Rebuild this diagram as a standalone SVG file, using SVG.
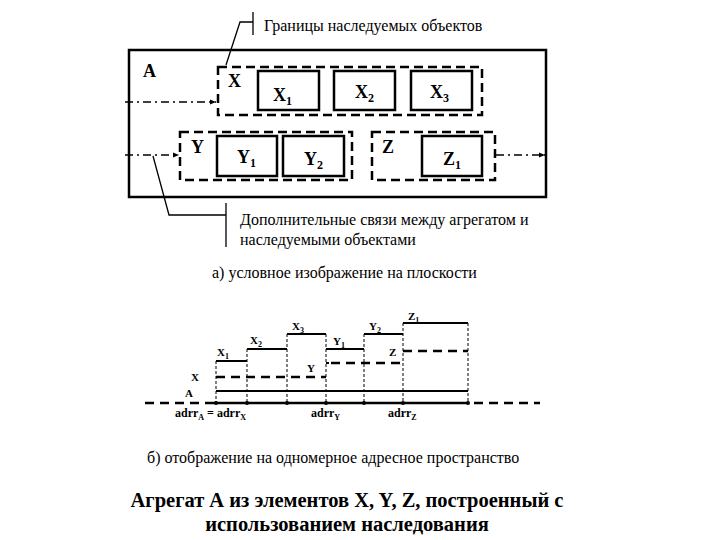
<svg xmlns="http://www.w3.org/2000/svg" width="720" height="540" viewBox="0 0 720 540" font-family="'Liberation Serif', 'Times New Roman', 'DejaVu Serif', serif">
<style>
.lbl{font-size:18px;font-weight:bold}
.sub{font-size:12px}
.note{font-size:16px}
.sm{font-size:11px;font-weight:bold}
.ad{font-size:12px;font-weight:bold}
.ssub{font-size:8px}
.box{fill:none;stroke:#000;stroke-width:2.5}
.dbox{fill:none;stroke:#000;stroke-width:2.5;stroke-dasharray:9 5}
.dd{fill:none;stroke:#000;stroke-width:1.5;stroke-dasharray:8 4 2 4}
.thin{fill:none;stroke:#000;stroke-width:1.3}
.ax{fill:none;stroke:#000;stroke-width:2.5}
.axd{fill:none;stroke:#000;stroke-width:2.5;stroke-dasharray:9 6}
.vd{fill:none;stroke:#000;stroke-width:1;stroke-dasharray:3 2}
.lv{fill:none;stroke:#000;stroke-width:2}
.lvd{fill:none;stroke:#000;stroke-width:2.5;stroke-dasharray:9 6}
.ttl{font-size:20.5px;font-weight:bold}
</style>
<defs>
<marker id="ar" viewBox="0 0 10 10" refX="10" refY="5" markerWidth="6" markerHeight="6" orient="auto" markerUnits="userSpaceOnUse">
<path d="M0,1 L10,5 L0,9 z" fill="#000"/>
</marker>
</defs>
<rect width="720" height="540" fill="#fff"/>

<g id="A">
<rect class="box" x="129" y="50" width="417" height="147"/>
<text class="lbl" x="143" y="77">A</text>
</g>
<g id="X">
<rect class="dbox" x="218" y="67" width="264" height="48"/>
<text class="lbl" x="228" y="87">X</text>
</g>
<g id="X1"><rect class="box" x="258" y="71" width="61" height="39"/><text class="lbl" x="273" y="101">X<tspan class="sub" dy="4">1</tspan></text></g>
<g id="X2"><rect class="box" x="334" y="71" width="61" height="39"/><text class="lbl" x="355" y="98">X<tspan class="sub" dy="4">2</tspan></text></g>
<g id="X3"><rect class="box" x="411" y="71" width="61" height="39"/><text class="lbl" x="430" y="98">X<tspan class="sub" dy="4">3</tspan></text></g>
<g id="Y">
<rect class="dbox" x="180" y="132" width="172" height="48"/>
<text class="lbl" x="191" y="153">Y</text>
</g>
<g id="Y1"><rect class="box" x="217" y="136" width="60" height="40"/><text class="lbl" x="237" y="163">Y<tspan class="sub" dy="4">1</tspan></text></g>
<g id="Y2"><rect class="box" x="283" y="136" width="61" height="40"/><text class="lbl" x="304" y="165">Y<tspan class="sub" dy="4">2</tspan></text></g>
<g id="Z">
<rect class="dbox" x="372" y="132" width="123" height="48"/>
<text class="lbl" x="382" y="153">Z</text>
</g>
<g id="Z1"><rect class="box" x="422" y="136" width="60" height="40"/><text class="lbl" x="443" y="165">Z<tspan class="sub" dy="4">1</tspan></text></g>

<g id="connectors">
<path class="dd" d="M125,102 H216" marker-end="url(#ar)"/>
<path class="dd" d="M125,155 H179" marker-end="url(#ar)"/>
<path class="dd" d="M496,155 H545" marker-end="url(#ar)"/>
<path class="thin" d="M226,65 L240,22 H253 M253,12 V35"/>
<path class="thin" d="M153,156 L169,215 H226 M226,203 V247"/>
</g>
<text class="note" x="264" y="31">Границы наследуемых объектов</text>
<text class="note" x="240" y="225">Дополнительные связи между агрегатом и</text>
<text class="note" x="240" y="245">наследуемыми объектами</text>
<text class="note" x="212" y="278">а) условное изображение на плоскости</text>

<g id="memory">
<path class="axd" d="M145,403 H213"/>
<path class="ax" d="M213,403 H468"/>
<path class="axd" d="M474,403 H540"/>
<path class="vd" d="M216,361 V403 M247,349 V403 M287,334 V403 M326,334 V403 M364,334 V403 M403,323 V403 M468,323 V403"/>
<g fill="#000"><circle cx="216" cy="403" r="2"/><circle cx="247" cy="403" r="2"/><circle cx="287" cy="403" r="2"/><circle cx="326" cy="403" r="2"/><circle cx="364" cy="403" r="2"/><circle cx="403" cy="403" r="2"/><circle cx="468" cy="403" r="2"/></g>
<path class="lv" d="M216,391 H468"/>
<path class="lvd" d="M216,377 H326"/>
<path class="lv" d="M216,361 H247 M247,349 H287 M287,334 H326 M326,363 H329 M326,349 H364 M364,334 H403 M403,323 H468"/>
<path class="lvd" d="M331,363 H403"/>
<path class="lvd" d="M403,351 H468"/>
<text class="sm" x="185" y="397">A</text>
<text class="sm" x="191" y="381">X</text>
<text class="sm" x="217" y="356">X<tspan class="ssub" dy="3">1</tspan></text>
<text class="sm" x="250" y="344">X<tspan class="ssub" dy="3">2</tspan></text>
<text class="sm" x="292" y="330">X<tspan class="ssub" dy="3">3</tspan></text>
<text class="sm" x="307" y="372">Y</text>
<text class="sm" x="333" y="345">Y<tspan class="ssub" dy="3">1</tspan></text>
<text class="sm" x="369" y="330">Y<tspan class="ssub" dy="3">2</tspan></text>
<text class="sm" x="389" y="356">Z</text>
<text class="sm" x="408" y="320">Z<tspan class="ssub" dy="3">1</tspan></text>
<text class="ad" x="175" y="417">adrr<tspan class="ssub" dy="3">A</tspan><tspan dy="-3"> = adrr</tspan><tspan class="ssub" dy="3">X</tspan></text>
<text class="ad" x="311" y="417">adrr<tspan class="ssub" dy="3">Y</tspan></text>
<text class="ad" x="388" y="417">adrr<tspan class="ssub" dy="3">Z</tspan></text>
</g>
<text class="note" x="147" y="463">б) отображение на одномерное адресное пространство</text>
<text class="ttl" x="347" y="507" text-anchor="middle">Агрегат А из элементов X, Y, Z,  построенный с</text>
<text class="ttl" x="347" y="531" text-anchor="middle">использованием наследования</text>
</svg>
